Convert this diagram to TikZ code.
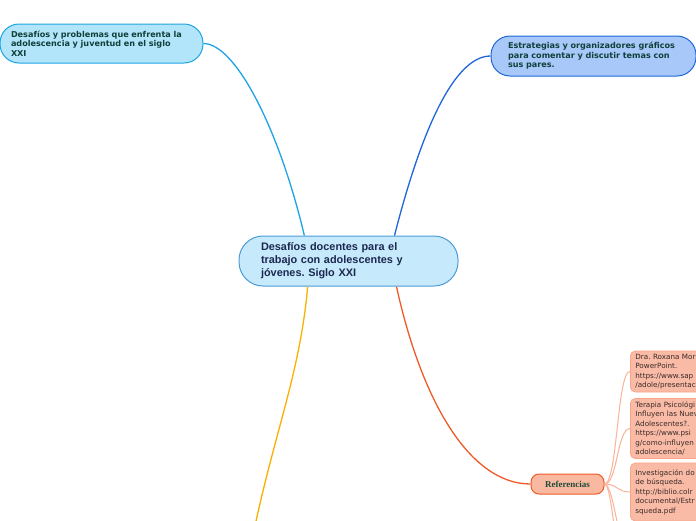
\documentclass[tikz,border=0pt]{standalone}
\usepackage{fontspec}
\setmainfont{DejaVu Sans}
\newfontfamily\arialf{Liberation Sans}
\newfontfamily\serf{Liberation Serif}
\usetikzlibrary{calc}
\frenchspacing
\definecolor{tlfill}{HTML}{B3E5FA}
\definecolor{tlline}{HTML}{1EA3E3}
\definecolor{trfill}{HTML}{A8C8F9}
\definecolor{trline}{HTML}{1F66D8}
\definecolor{cfill}{HTML}{C6EAFB}
\definecolor{cline}{HTML}{4B9CD6}
\definecolor{toptext}{HTML}{10403A}
\definecolor{ctext}{HTML}{1C2850}
\definecolor{reffill}{HTML}{F9B8A0}
\definecolor{refline}{HTML}{F05A28}
\definecolor{kidfill}{HTML}{F9BBA5}
\definecolor{kidline}{HTML}{F9A486}
\definecolor{kidtext}{HTML}{3A2A2A}
\definecolor{reftext}{HTML}{1F4A3A}
\definecolor{yel}{HTML}{F9B000}
\tikzset{
  tlbox/.style={draw=tlline, fill=tlfill, line width=1pt, rounded corners=19pt,
    minimum height=39pt, text width=181pt, inner xsep=11pt, inner ysep=0pt, align=left,
    font=\frenchspacing\bfseries\fontsize{8.1}{9.5}\selectfont, text=toptext},
  trbox/.style={draw=trline, fill=trfill, line width=1pt, rounded corners=19pt,
    minimum height=40pt, text width=171pt, inner xsep=17pt, inner ysep=0pt, align=left,
    font=\frenchspacing\bfseries\fontsize{8.1}{9.5}\selectfont, text=toptext},
  cbox/.style={draw=cline, fill=cfill, line width=1pt, rounded corners=24pt,
    minimum height=50pt, text width=175pt, inner xsep=22pt, inner ysep=0pt, align=left,
    font=\frenchspacing\arialf\bfseries\fontsize{10.9}{13}\selectfont, text=ctext},
  refbox/.style={draw=refline, fill=reffill, line width=1pt, rounded corners=8pt,
    minimum height=20pt, minimum width=73pt, inner sep=0pt,
    font=\serf\bfseries\fontsize{9}{10}\selectfont, text=reftext},
  kidbox/.style={draw=kidline, fill=kidfill, line width=0.8pt, rounded corners=5pt,
    text width=130pt, inner xsep=5pt, inner ysep=0pt, align=left, anchor=west,
    font=\frenchspacing\fontsize{7.2}{9.5}\selectfont, text=kidtext},
  mainlink/.style={line width=1.3pt},
  kidlink/.style={draw=kidline!85, line width=1pt},
}
\begin{document}
\begin{tikzpicture}[x=1pt,y=-1pt]
\useasboundingbox (0,0) rectangle (696,520);
\coordinate (downend) at (251,545);
\coordinate (kid4) at (632,560);
\coordinate (kid5) at (632,620);
\node[tlbox] (tl) at (101.5,43.5) {Desafíos y problemas que enfrenta la\\adolescencia y juventud en el siglo\\XXI};
\node[trbox] (tr) at (593.5,56) {Estrategias y organizadores gráficos\\para comentar y discutir temas con\\sus pares.};
\node[cbox] (c) at (348.5,261) {Desafíos docentes para el\\trabajo con adolescentes y\\jóvenes. Siglo XXI};
\node[refbox] (ref) at (567.5,484) {Referencias};
\node[kidbox, minimum height=41pt] (k1) at (630,371.5) {Dra. Roxana Mor\\PowerPoint.\\https://www.sap\\/adole/presentac};
\node[kidbox, minimum height=60pt] (k2) at (630,428.5) {Terapia Psicológi\\Influyen las Nuev\\Adolescentes?.\\https://www.psi\\g/como-influyen\\adolescencia/};
\node[kidbox, minimum height=58pt] (k3) at (630,492) {Investigación do\\de búsqueda.\\http://biblio.colr\\documental/Estr\\squeda.pdf};
\draw[mainlink, tlline] (tl.east) .. controls +(32,0) and +(-25,-106) .. (c.150);
\draw[mainlink, trline] (c.29) .. controls +(27,-106) and +(-36,0) .. (tr.west);
\draw[mainlink, refline] (c.-28) .. controls +(25,114) and +(-61,0) .. (ref.west);
\draw[mainlink, yel] (c.212) .. controls +(-8,90) and +(22,-110) .. (downend);
\draw[kidlink] (ref.east) .. controls +(13,0) and +(-13,0) .. (k1.west);
\draw[kidlink] (ref.east) .. controls +(13,0) and +(-13,0) .. (k2.west);
\draw[kidlink] (ref.east) .. controls +(13,0) and +(-13,0) .. (k3.west);
\draw[kidlink] (ref.east) .. controls +(10,0) and +(-13,0) .. (kid4);
\draw[kidlink] (ref.east) .. controls +(10,0) and +(-13,0) .. (kid5);
\end{tikzpicture}
\end{document}
